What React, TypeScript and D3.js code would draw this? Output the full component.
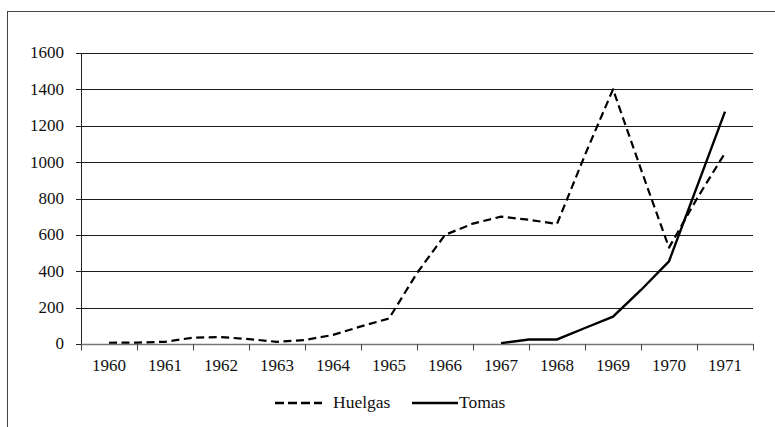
import * as d3 from "d3";

// year labels on the x axis
const years = [1960, 1961, 1962, 1963, 1964, 1965, 1966, 1967, 1968, 1969, 1970, 1971];
const yTicks = [0, 200, 400, 600, 800, 1000, 1200, 1400, 1600];

// half-year points
const huelgasX = [
  1960, 1960.5, 1961, 1961.5, 1962, 1962.5, 1963, 1963.5, 1964, 1964.5, 1965, 1965.5,
  1966, 1966.5, 1967, 1967.5, 1968, 1968.5, 1969, 1969.5, 1970, 1970.5, 1971,
];
const huelgas = [
  7, 8, 12, 35, 38, 27, 12, 22, 50, 97, 140, 390,
  600, 662, 700, 683, 660, 1040, 1400, 960, 530, 800, 1050,
];
const tomasX = [1967, 1967.5, 1968, 1968.5, 1969, 1969.5, 1970, 1970.5, 1971];
const tomas = [5, 25, 25, 88, 150, 297, 455, 865, 1278];

const W = 775;
const H = 427;
const FONT = "Liberation Serif";

const left = 81;
const right = 753;
const top = 53;
const bottom = 344;

const x = d3.scaleLinear().domain([1959.5, 1971.5]).range([left, right]);
const y = d3.scaleLinear().domain([0, 1600]).range([bottom, top]);
const px = (v: number) => Math.round(v) + 0.5;

const App = () => {
  const huelgasLine = d3
    .line<number>()
    .x((_, i) => x(huelgasX[i]))
    .y((d) => y(d));
  const tomasLine = d3
    .line<number>()
    .x((_, i) => x(tomasX[i]))
    .y((d) => y(d));
  const xTicks = d3.range(0, years.length + 1).map((i) => 1959.5 + i);

  return (
    <svg
      width={W}
      height={H}
      style={{ position: "fixed", left: 0, top: 0, background: "#fff", fontFamily: FONT }}
    >
      {/* outer frame */}
      <rect x={7.5} y={11.5} width={W} height={H} fill="none" stroke="#444" />

      {/* gridlines */}
      {yTicks
        .filter((d) => d > 0)
        .map((d) => (
          <line key={d} x1={left} x2={right} y1={px(y(d))} y2={px(y(d))} stroke="#1a1a1a" />
        ))}

      {/* y axis */}
      <line x1={left + 0.5} x2={left + 0.5} y1={top} y2={bottom + 6} stroke="#222" />
      {yTicks.map((d) => (
        <g key={d}>
          <line x1={left - 5} x2={left} y1={px(y(d))} y2={px(y(d))} stroke="#222" />
          <text
            x={left - 17}
            y={y(d)}
            dy="0.32em"
            textAnchor="end"
            fontSize={17}
            fill="#111"
            style={{ fontFamily: FONT }}
          >
            {d}
          </text>
        </g>
      ))}

      {/* x axis */}
      <line x1={left} x2={right} y1={bottom + 0.5} y2={bottom + 0.5} stroke="#777" strokeWidth={1.5} />
      {xTicks.map((t) => (
        <line key={t} x1={px(x(t))} x2={px(x(t))} y1={bottom} y2={bottom + 6.5} stroke="#444" />
      ))}
      {years.map((d) => (
        <text
          key={d}
          x={x(d)}
          y={bottom + 27}
          textAnchor="middle"
          fontSize={17}
          fill="#111"
          style={{ fontFamily: FONT }}
        >
          {d}
        </text>
      ))}

      {/* lines */}
      <path
        d={huelgasLine(huelgas) ?? ""}
        fill="none"
        stroke="#000"
        strokeWidth={2.2}
        strokeLinejoin="round"
        strokeDasharray="8,4.5"
      />
      <path d={tomasLine(tomas) ?? ""} fill="none" stroke="#000" strokeWidth={2.4} />

      {/* legend */}
      <g transform="translate(0,403)">
        <line x1={275} x2={322} stroke="#000" strokeWidth={2.4} strokeDasharray="9,4" />
        <text x={333} y={5} fontSize={17.5} fill="#111" style={{ fontFamily: FONT }}>
          Huelgas
        </text>
        <line x1={412} x2={458} stroke="#000" strokeWidth={2.4} />
        <text x={459} y={5} fontSize={17.5} fill="#111" style={{ fontFamily: FONT }}>
          Tomas
        </text>
      </g>
    </svg>
  );
};

export default App;
